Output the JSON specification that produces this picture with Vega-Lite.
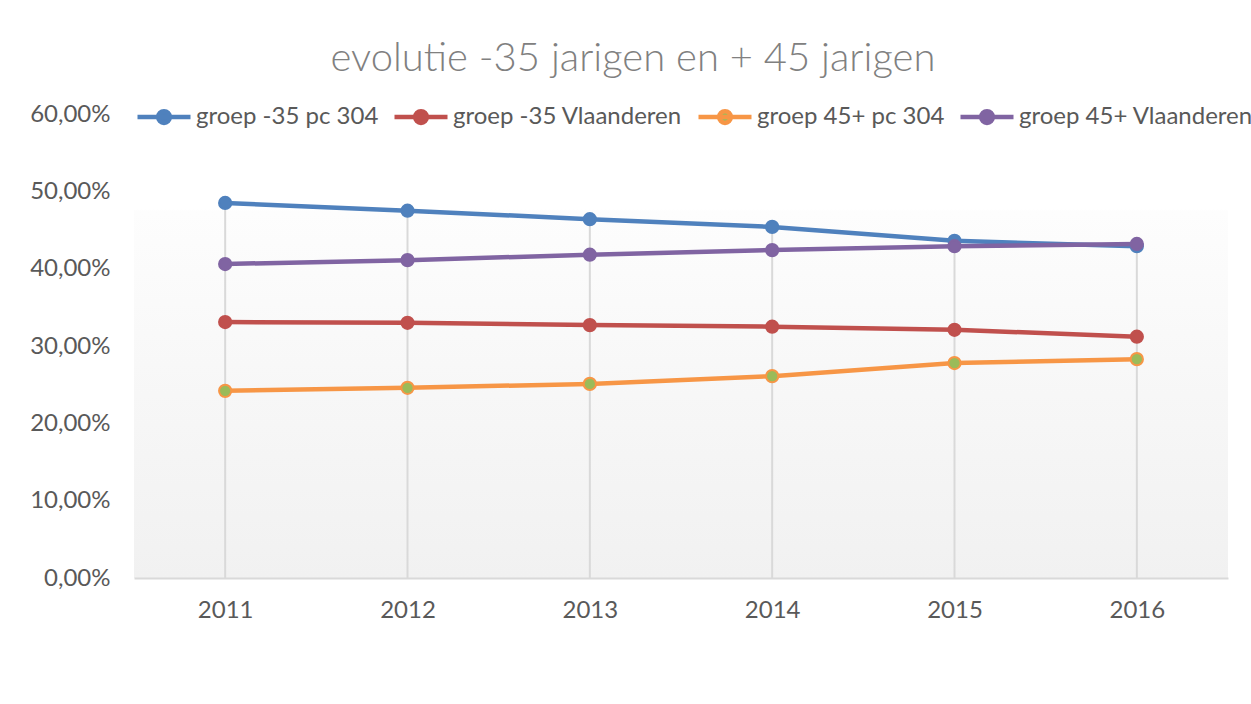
{
  "$schema": "https://vega.github.io/schema/vega-lite/v6.json",
  "autosize": "none",
  "width": 1094,
  "height": 464,
  "padding": {"left": 134, "top": 114, "right": 23, "bottom": 126},
  "background": "white",
  "title": {
    "text": "evolutie -35 jarigen en + 45 jarigen",
    "anchor": "middle",
    "dx": -48,
    "offset": -23,
    "baseline": "alphabetic",
    "font": "Lato",
    "fontSize": 40,
    "fontWeight": 300,
    "color": "#808080"
  },
  "config": {
    "locale": {"number": {"decimal": ",", "thousands": ".", "grouping": [3], "currency": ["€", ""]}},
    "view": {
      "stroke": null,
      "fill": {
        "gradient": "linear", "x1": 0, "y1": 0, "x2": 0, "y2": 1,
        "stops": [
          {"offset": 0, "color": "#ffffff"},
          {"offset": 0.205, "color": "#ffffff"},
          {"offset": 0.21, "color": "#fdfdfd"},
          {"offset": 1, "color": "#f1f1f1"}
        ]
      }
    },
    "font": "Lato"
  },
  "data": {
    "values": [
      {"jaar": "2011", "reeks": "groep -35 pc 304", "waarde": 0.485},
      {"jaar": "2012", "reeks": "groep -35 pc 304", "waarde": 0.475},
      {"jaar": "2013", "reeks": "groep -35 pc 304", "waarde": 0.464},
      {"jaar": "2014", "reeks": "groep -35 pc 304", "waarde": 0.454},
      {"jaar": "2015", "reeks": "groep -35 pc 304", "waarde": 0.436},
      {"jaar": "2016", "reeks": "groep -35 pc 304", "waarde": 0.429},
      {"jaar": "2011", "reeks": "groep -35 Vlaanderen", "waarde": 0.331},
      {"jaar": "2012", "reeks": "groep -35 Vlaanderen", "waarde": 0.330},
      {"jaar": "2013", "reeks": "groep -35 Vlaanderen", "waarde": 0.327},
      {"jaar": "2014", "reeks": "groep -35 Vlaanderen", "waarde": 0.325},
      {"jaar": "2015", "reeks": "groep -35 Vlaanderen", "waarde": 0.321},
      {"jaar": "2016", "reeks": "groep -35 Vlaanderen", "waarde": 0.312},
      {"jaar": "2011", "reeks": "groep 45+ pc 304", "waarde": 0.242},
      {"jaar": "2012", "reeks": "groep 45+ pc 304", "waarde": 0.246},
      {"jaar": "2013", "reeks": "groep 45+ pc 304", "waarde": 0.251},
      {"jaar": "2014", "reeks": "groep 45+ pc 304", "waarde": 0.261},
      {"jaar": "2015", "reeks": "groep 45+ pc 304", "waarde": 0.278},
      {"jaar": "2016", "reeks": "groep 45+ pc 304", "waarde": 0.283},
      {"jaar": "2011", "reeks": "groep 45+ Vlaanderen", "waarde": 0.406},
      {"jaar": "2012", "reeks": "groep 45+ Vlaanderen", "waarde": 0.411},
      {"jaar": "2013", "reeks": "groep 45+ Vlaanderen", "waarde": 0.418},
      {"jaar": "2014", "reeks": "groep 45+ Vlaanderen", "waarde": 0.424},
      {"jaar": "2015", "reeks": "groep 45+ Vlaanderen", "waarde": 0.429},
      {"jaar": "2016", "reeks": "groep 45+ Vlaanderen", "waarde": 0.432}
    ]
  },
  "encoding": {
    "x": {
      "field": "jaar", "type": "ordinal",
      "scale": {"type": "point", "padding": 0.5},
      "axis": {
        "title": null, "labelAngle": 0, "ticks": false, "grid": false,
        "domainColor": "#d9d9d9", "domainWidth": 2,
        "labelFont": "Lato", "labelFontSize": 24, "labelColor": "#595959", "labelPadding": 20
      }
    }
  },
  "layer": [
    {
      "mark": {"type": "rule", "color": "#d9d9d9", "strokeWidth": 2},
      "encoding": {
        "y": {"aggregate": "max", "field": "waarde", "type": "quantitative"},
        "y2": {"datum": 0}
      }
    },
    {
      "mark": {"type": "line", "strokeWidth": 4.5},
      "encoding": {
        "y": {
          "field": "waarde", "type": "quantitative",
          "scale": {"domain": [0, 0.6]},
          "axis": {
            "title": null, "format": ".2%", "values": [0, 0.1, 0.2, 0.3, 0.4, 0.5, 0.6],
            "labelOverlap": false,
            "grid": false, "domain": false, "ticks": false,
            "labelFont": "Lato", "labelFontSize": 24, "labelColor": "#595959", "labelPadding": 24
          }
        },
        "stroke": {
          "field": "reeks", "type": "nominal",
          "scale": {
            "domain": ["groep -35 pc 304", "groep -35 Vlaanderen", "groep 45+ pc 304", "groep 45+ Vlaanderen"],
            "range": ["#4f81bd", "#c0504d", "#f79646", "#8064a2"]
          },
          "legend": {
            "title": null, "orient": "none", "direction": "horizontal",
            "legendX": 1, "legendY": -26,
            "symbolType": "M-1,0H1M-0.22,0A0.22,0.22 0 1,1 0.22,0A0.22,0.22 0 1,1 -0.22,0Z",
            "symbolSize": 2809, "symbolStrokeWidth": 4.5,
            "labelFont": "Lato", "labelFontSize": 24, "labelColor": "#595959", "labelLimit": 0,
            "labelOffset": 3, "columnPadding": 6,
            "encode": {"symbols": {"update": {"fill": {"scale": "fill", "field": "value"}, "opacity": {"value": 1}}}}
          }
        }
      }
    },
    {
      "mark": {"type": "point", "filled": true, "size": 150, "strokeWidth": 2, "opacity": 1},
      "encoding": {
        "y": {"field": "waarde", "type": "quantitative"},
        "stroke": {"field": "reeks", "type": "nominal"},
        "fill": {
          "field": "reeks", "type": "nominal",
          "scale": {
            "domain": ["groep -35 pc 304", "groep -35 Vlaanderen", "groep 45+ pc 304", "groep 45+ Vlaanderen"],
            "range": ["#4f81bd", "#c0504d", "#9bbb59", "#8064a2"]
          },
          "legend": null
        }
      }
    }
  ]
}
